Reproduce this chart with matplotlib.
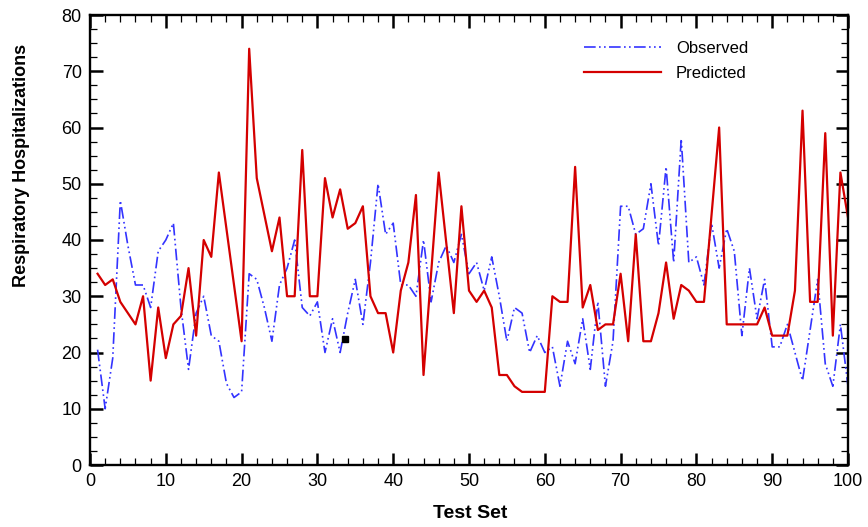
import numpy as np
import matplotlib
matplotlib.use("Agg")
import matplotlib.pyplot as plt
from matplotlib import font_manager
from matplotlib.ticker import MultipleLocator

# values
test_idx = list(range(1, 101))
observed = [
    20.5, 10, 19, 47, 39, 32, 32, 28, 38, 40,
    43, 28, 17, 27, 30, 23, 22, 14.5, 12, 13,
    34, 33, 28, 22, 32, 35, 40, 28, 26.5, 29,
    20, 26, 20, 27, 33, 25, 36, 50, 41, 43,
    32, 32, 30, 40, 29, 36, 39, 36, 41, 34,
    36, 31, 37, 30, 22, 28, 27, 20, 23, 20,
    21, 14, 22, 18, 26, 17, 29, 14, 22, 46,
    46, 41, 42, 50, 39, 53, 36, 58, 36, 37,
    32, 43, 35, 42, 38, 23, 35, 26, 33, 21,
    21, 25, 20, 15, 24, 33, 18, 14, 25, 14,
]
predicted = [
    34, 32, 33, 29, 27, 25, 30, 15, 28, 19,
    25, 26.5, 35, 23, 40, 37, 52, 42, 32, 22,
    74, 51, 44.5, 38, 44, 30, 30, 56, 30, 30,
    51, 44, 49, 42, 43, 46, 30, 27, 27, 20,
    31, 36, 48, 16, 34, 52, 39.5, 27, 46, 31,
    29, 31, 28, 16, 16, 14, 13, 13, 13, 13,
    30, 29, 29, 53, 28, 32, 24, 25, 25, 34,
    22, 41, 22, 22, 27, 36, 26, 32, 31, 29,
    29, 44.5, 60, 25, 25, 25, 25, 25, 28, 23,
    23, 23, 31, 63, 29, 29, 59, 23, 52, 44,
]
# stray square marker visible in the original figure
stray_x = [33.6]
stray_y = [22.4]

names = {f.name for f in font_manager.fontManager.ttflist}
if "Liberation Sans Narrow" in names:
    fam = ["Liberation Sans Narrow", "Liberation Sans", "DejaVu Sans"]
else:
    fam = ["Liberation Sans", "DejaVu Sans"]
plt.rcParams["font.family"] = fam

fig = plt.figure(figsize=(8.68, 5.27), dpi=100)
ax = fig.add_axes([90 / 868, 62 / 527, 758 / 868, 450 / 527])

ax.plot(test_idx, observed, color="#3333ff", lw=1.2,
        dashes=(7, 2, 1, 2, 1, 2), label="Observed")
ax.plot(test_idx, predicted, color="#d40000", lw=1.6, label="Predicted")
ax.plot(stray_x, stray_y, "s", color="black", ms=5)

ax.set_xlim(0, 100)
ax.set_ylim(0, 80)
ax.xaxis.set_major_locator(MultipleLocator(10))
ax.xaxis.set_minor_locator(MultipleLocator(2))
ax.yaxis.set_major_locator(MultipleLocator(10))
ax.yaxis.set_minor_locator(MultipleLocator(2.5))
ax.tick_params(which="both", direction="in", top=True, right=True)
ax.tick_params(which="major", length=9, width=1.8, labelsize=13, pad=6)
ax.tick_params(which="minor", length=5, width=0.9)
for sp in ax.spines.values():
    sp.set_linewidth(1.7)

fig.text(470 / 868, 14 / 527, "Test Set", ha="center", va="center",
         fontsize=14, fontweight="bold")
fig.text(22 / 868, 1 - 165 / 527, "Respiratory Hospitalizations", ha="center",
         va="center", rotation=90, fontsize=13, fontweight="bold")

leg = ax.legend(loc="upper left", bbox_to_anchor=(0.652, 0.943), frameon=False,
                fontsize=12, handlelength=4.6, handletextpad=0.9,
                labelspacing=0.6, borderpad=0, borderaxespad=0)

fig.savefig("out.png", dpi=100)
